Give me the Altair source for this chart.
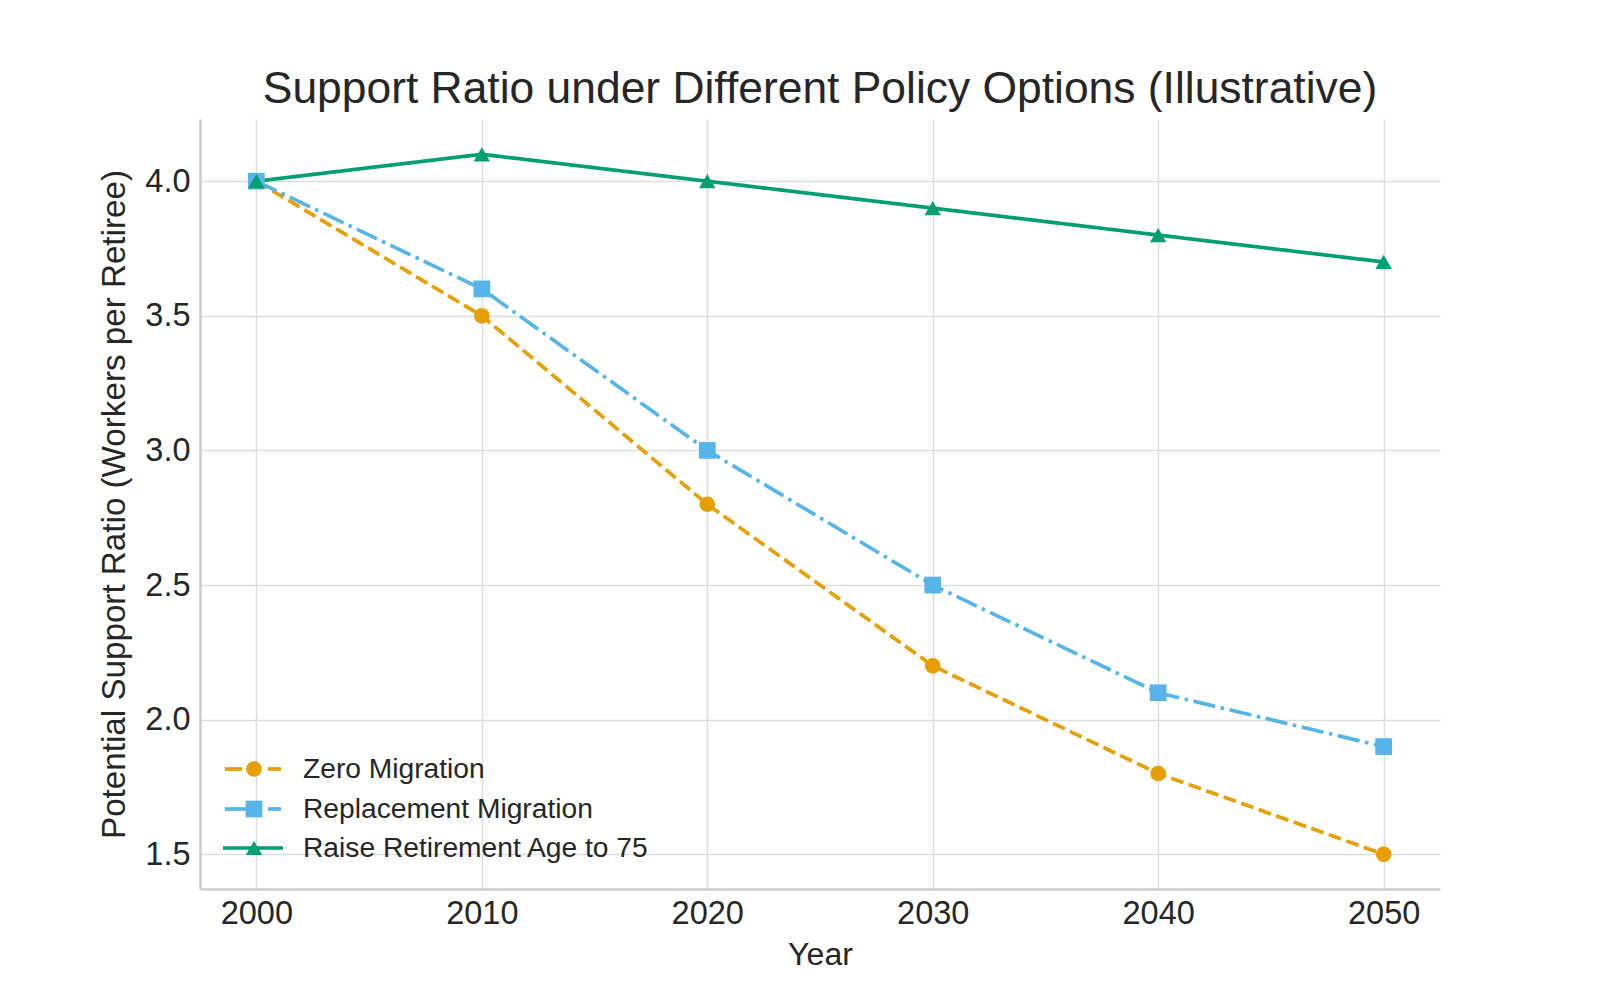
import altair as alt
import pandas as pd

years = [2000, 2010, 2020, 2030, 2040, 2050]
zero_migration = [4.0, 3.5, 2.8, 2.2, 1.8, 1.5]
replacement_migration = [4.0, 3.6, 3.0, 2.5, 2.1, 1.9]
raise_retirement = [4.0, 4.1, 4.0, 3.9, 3.8, 3.7]

series_names = ["Zero Migration", "Replacement Migration", "Raise Retirement Age to 75"]
series_colors = ["#E69F00", "#56B4E9", "#009E73"]
series_dashes = [[13, 5.6], [22.4, 5.6, 3.5, 5.6], [1, 0]]
series_shapes = ["circle", "square", "triangle-up"]
series_sizes = [245, 280, 270]

y_ticks = [1.5, 2.0, 2.5, 3.0, 3.5, 4.0]

rows = []
for name, vals in zip(series_names, [zero_migration, replacement_migration, raise_retirement]):
    for yr, v in zip(years, vals):
        rows.append({"Year": yr, "Ratio": v, "Scenario": name})
df = pd.DataFrame(rows)

FONT = "Liberation Sans"
TXT = "#262626"
LW = 3.7

x_enc = alt.X("Year:Q", scale=alt.Scale(domain=[1997.5, 2052.5], nice=False, zero=False),
              axis=alt.Axis(values=years, format="d", title="Year", titleFontSize=32.1))
y_enc = alt.Y("Ratio:Q", scale=alt.Scale(domain=[1.371, 4.231], nice=False, zero=False),
              axis=alt.Axis(values=y_ticks, format=".1f", titleFontSize=33.2,
                            title="Potential Support Ratio (Workers per Retiree)"))
color_enc = alt.Color("Scenario:N", scale=alt.Scale(domain=series_names, range=series_colors), legend=None)

base = alt.Chart(df)

lines = base.mark_line(strokeWidth=LW, strokeCap="butt").encode(
    x=x_enc, y=y_enc, color=color_enc,
    strokeDash=alt.StrokeDash("Scenario:N", scale=alt.Scale(domain=series_names, range=series_dashes), legend=None),
    order="Year:Q",
)

layers = [lines]
for name, shp, sz in zip(series_names, series_shapes, series_sizes):
    layers.append(
        base.transform_filter(alt.datum.Scenario == name)
        .mark_point(filled=True, shape=shp, size=sz, opacity=1)
        .encode(x=x_enc, y=y_enc, color=color_enc)
    )

# legend (drawn inside the plot, bottom-left), positions in plot-area pixels
legend_rows_y = [650, 690, 729]
legend_segments = [
    [(25, 42), (68, 81)],
    [(25, 48), (68, 81)],
    [(23, 83)],
]
marker_x = 54
label_x = 103
for i, name in enumerate(series_names):
    yc = legend_rows_y[i]
    col = series_colors[i]
    ldf = pd.DataFrame({"Scenario": [name]})
    lbase = alt.Chart(ldf)
    for (a, b) in legend_segments[i]:
        layers.append(
            lbase.mark_rule(strokeWidth=LW, color=col, strokeCap="butt").encode(
                x=alt.value(a), x2=alt.value(b), y=alt.value(yc))
        )
    layers.append(
        lbase.mark_point(filled=True, shape=series_shapes[i], size=series_sizes[i], opacity=1, color=col)
        .encode(x=alt.value(marker_x), y=alt.value(yc))
    )
    layers.append(
        lbase.mark_text(align="left", baseline="middle", font=FONT, fontSize=28.2, color=TXT, dy=1)
        .encode(x=alt.value(label_x), y=alt.value(yc), text="Scenario:N")
    )

chart = alt.layer(*layers).properties(
    width=1240, height=770,
    title=alt.TitleParams("Support Ratio under Different Policy Options (Illustrative)",
                          fontSize=44.4, font=FONT, color=TXT, fontWeight="normal", offset=7),
    autosize=alt.AutoSizeParams(type="none"),
    padding={"left": 192, "top": 111, "right": 130, "bottom": 92},
).configure_view(stroke=None).configure_axis(
    labelFont=FONT, titleFont=FONT, labelFontSize=32.5,
    labelColor=TXT, titleColor=TXT, titleFontWeight="normal",
    ticks=False, grid=True, gridColor="#dddddd", gridWidth=1.5,
    domainColor="#cccccc", domainWidth=2.5,
).configure_axisX(labelPadding=8, titlePadding=10).configure_axisY(labelPadding=10, titlePadding=13)

chart.save("out.html", embed_options={"renderer": "svg", "actions": False})
